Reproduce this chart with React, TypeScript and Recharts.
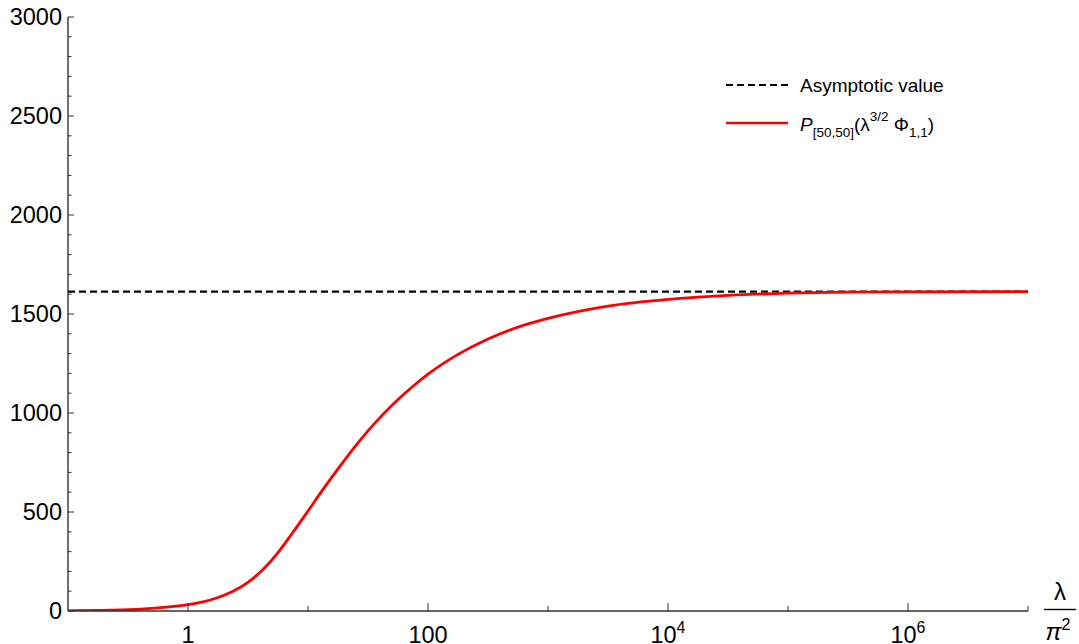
import React from 'react';
import { LineChart, Line, XAxis, YAxis, ReferenceLine, Legend } from 'recharts';

// lambda / pi^2 (log axis)
const lambdaOverPi2 = [
  0.1, 0.178, 0.316, 0.562, 1, 1.334, 1.778, 2.371, 3.162, 4.217, 5.623, 7.499,
  10, 13.34, 17.78, 23.71, 31.62, 42.17, 56.23, 74.99, 100, 177.8, 316.2, 562.3,
  1000, 3162, 10000, 31623, 100000, 316228, 1000000, 10000000,
];
// P_[50,50](lambda^{3/2} Phi_{1,1})
const padeValues = [
  1, 3, 7, 16, 32, 46, 68, 100, 145, 210, 295, 398,
  505, 614, 718, 818, 910, 993, 1068, 1135, 1196, 1296, 1374, 1434,
  1478, 1540, 1574, 1594, 1605, 1610, 1612, 1613,
];
const asymptoticValue = 1613;

const xTicks = [1, 10, 100, 1000, 10000, 100000, 1000000, 10000000];
const xTickLabels = [
  { value: 1, base: '1', exp: '' },
  { value: 100, base: '100', exp: '' },
  { value: 10000, base: '10', exp: '4' },
  { value: 1000000, base: '10', exp: '6' },
];
const yMajorTicks = [0, 500, 1000, 1500, 2000, 2500, 3000];
const yMinorStep = 100;
const yTicks: number[] = [];
for (let v = 0; v <= 3000; v += yMinorStep) yTicks.push(v);

const data = lambdaOverPi2.map((x, i) => ({ x, p: padeValues[i] }));

const FONT = '"Liberation Sans", Arial, Helvetica, sans-serif';
const AXIS_COLOR = '#333';
const TICK_FONT = 23.5;

const XTick = (props: any) => {
  const { x, y, payload } = props;
  const lab = xTickLabels.find((t) => t.value === payload.value);
  return (
    <g>
      <line x1={x} x2={x} y1={y} y2={y - (lab ? 8 : 5)} stroke={AXIS_COLOR} strokeWidth={1} />
      {lab && (
        <text x={x} y={y + 32} textAnchor="middle" fontSize={TICK_FONT} fill="#000" fontFamily={FONT}>
          {lab.base}
          {lab.exp && (
            <tspan fontSize={16} dy={-10}>
              {lab.exp}
            </tspan>
          )}
        </text>
      )}
    </g>
  );
};

const YTick = (props: any) => {
  const { x, y, payload } = props;
  const major = yMajorTicks.includes(payload.value);
  return (
    <g>
      <line x1={x} x2={x + (major ? 6 : 3.5)} y1={y} y2={y} stroke={AXIS_COLOR} strokeWidth={1} />
      {major && (
        <text x={x - 6} y={y} dy="0.36em" textAnchor="end" fontSize={TICK_FONT} fill="#000" fontFamily={FONT}>
          {payload.value}
        </text>
      )}
    </g>
  );
};

const AxisFraction = (props: any) => {
  const vb = props.viewBox || {};
  const ax = (vb.x ?? 68) + (vb.width ?? 960);
  const ay = vb.y ?? 611;
  const cx = ax + 32;
  return (
    <g fontFamily={FONT} fill="#000">
      <text x={cx} y={ay - 11} textAnchor="middle" fontSize={24}>
        λ
      </text>
      <line x1={cx - 16} x2={cx + 16} y1={ay - 1.5} y2={ay - 1.5} stroke="#000" strokeWidth={1.4} />
      <text x={cx - 2} y={ay + 29} textAnchor="middle" fontSize={24} fontStyle="italic">
        π
        <tspan fontSize={16} dy={-10} fontStyle="normal">
          2
        </tspan>
      </text>
    </g>
  );
};

const renderLegend = () => (
  <div style={{ fontFamily: FONT, fontSize: 19, color: '#000', lineHeight: 1 }}>
    <div style={{ display: 'flex', alignItems: 'center', height: 40 }}>
      <svg width={62} height={4} style={{ display: 'block' }}>
        <line x1={0} x2={62} y1={2} y2={2} stroke="#000" strokeWidth={2.2} strokeDasharray="7 4" />
      </svg>
      <span style={{ marginLeft: 12, whiteSpace: 'nowrap' }}>Asymptotic value</span>
    </div>
    <div style={{ display: 'flex', alignItems: 'center', height: 40 }}>
      <svg width={62} height={4} style={{ display: 'block', marginTop: -4 }}>
        <line x1={0} x2={62} y1={2} y2={2} stroke="#ff0000" strokeWidth={2.6} />
      </svg>
      <span style={{ marginLeft: 12, whiteSpace: 'nowrap' }}>
        <i>P</i>
        <span style={{ fontSize: 13.5, verticalAlign: '-0.45em' }}>[50,50]</span>
        (λ
        <span style={{ fontSize: 13.5, verticalAlign: '0.75em' }}>3/2</span> Φ
        <span style={{ fontSize: 13.5, verticalAlign: '-0.45em' }}>1,1</span>)
      </span>
    </div>
  </div>
);

export default function App() {
  return (
    <div style={{ position: 'absolute', left: 0, top: 0, width: 1079, height: 644, background: '#fff' }}>
      <LineChart width={1079} height={644} data={data} margin={{ top: 17, right: 51, bottom: 0, left: 0 }}>
        <XAxis
          dataKey="x"
          type="number"
          scale="log"
          domain={[0.1, 10000000]}
          allowDataOverflow
          ticks={xTicks}
          interval={0}
          tickSize={0}
          tickMargin={0}
          tickLine={false}
          tick={<XTick />}
          height={33}
          axisLine={{ stroke: AXIS_COLOR, strokeWidth: 1.4 }}
          label={<AxisFraction />}
        />
        <YAxis
          type="number"
          domain={[0, 3000]}
          allowDataOverflow
          ticks={yTicks}
          interval={0}
          tickSize={0}
          tickMargin={0}
          tickLine={false}
          tick={<YTick />}
          width={68}
          axisLine={{ stroke: AXIS_COLOR, strokeWidth: 1.4 }}
        />
        <ReferenceLine
          y={asymptoticValue}
          stroke="#000"
          strokeWidth={2.2}
          strokeDasharray="7 4"
          ifOverflow="extendDomain"
        />
        <Line
          type="monotone"
          dataKey="p"
          stroke="#ff0000"
          strokeWidth={2.8}
          dot={false}
          isAnimationActive={false}
        />
        <Legend
          layout="horizontal"
          verticalAlign="middle"
          align="center"
          content={renderLegend}
          wrapperStyle={{ left: 726, top: 65, width: 320, height: 80 }}
        />
      </LineChart>
    </div>
  );
}
